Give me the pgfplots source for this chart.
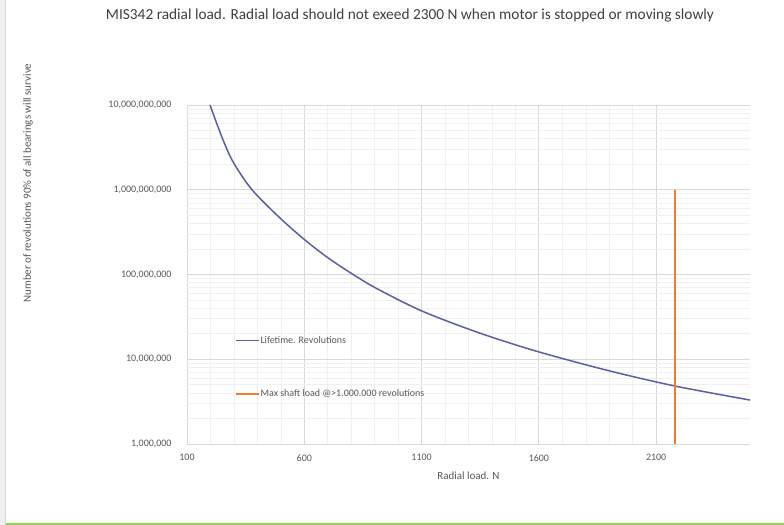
\documentclass[border=0pt]{standalone}
\usepackage{pgfplots}
\pgfplotsset{compat=1.18}
\usepackage{fontspec}
\setmainfont{Carlito}
\definecolor{lifeblue}{HTML}{5A5FA8}
\definecolor{shaftorange}{HTML}{ED7D31}
\definecolor{txtgray}{HTML}{595959}
\definecolor{majgrid}{HTML}{D9D9D9}
\definecolor{mingrid}{HTML}{F0F0F0}
\definecolor{edgegreen}{HTML}{92D050}

\begin{document}
\begin{tikzpicture}[x=1bp,y=1bp]
  % page frame, as in the screenshot
  \useasboundingbox (0,0) rectangle (784,525);
  \fill[white] (0,0) rectangle (784,525);
  \fill[black!6] (0,0) rectangle (5,525);
  \draw[black!15, line width=0.8bp] (5.5,0) -- (5.5,525);
  \draw[edgegreen, line width=1.6bp] (5.5,1) -- (784,1);

  \node[text=black!75, font=\fontsize{15.4}{17}\selectfont] at (410,509)
    {MIS342 radial load. Radial load should not exeed 2300 N when motor is stopped or moving slowly};
  \node[text=txtgray, rotate=90, font=\fontsize{11}{13}\selectfont] at (28,342)
    {Number of revolutions 90\% of all bearings will survive};

  \begin{axis}[
    at={(187bp,81bp)}, anchor=south west,
    scale only axis, width=563bp, height=339bp,
    ymode=log,
    xmin=100, xmax=2500, ymin=1e6, ymax=1e10,
    xtick={100,600,1100,1600,2100},
    xticklabels={100,600,1100,1600,2100},
    minor x tick num=4,
    ytick={1e6,1e7,1e8,1e9,1e10},
    yticklabels={{1,000,000},{10,000,000},{100,000,000},{1,000,000,000},{10,000,000,000}},
    grid=both,
    major grid style={majgrid, line width=0.8bp},
    minor grid style={mingrid, line width=0.6bp},
    axis line style={draw=none},
    major tick length=0pt, minor tick length=0pt,
    tick label style={text=txtgray, font=\fontsize{10}{12}\selectfont},
    yticklabel style={xshift=-12bp},
    xticklabel style={yshift=-7bp},
    xlabel={Radial load. N},
    xlabel style={text=txtgray, font=\fontsize{11}{13}\selectfont, yshift=-4bp},
    legend style={draw=none, fill=none, at={(0.085,0.33)}, anchor=north west,
      font=\fontsize{10}{12}\selectfont, text=txtgray, row sep=41bp,
      inner xsep=0pt, nodes={inner xsep=1pt}},
    legend cell align=left,
    legend image code/.code={\draw[#1, line width=1.5bp] (0bp,0bp) -- (23bp,0bp);},
  ]
    \addplot[lifeblue, line width=1.5bp, smooth, tension=0.5] coordinates {
      (198,1.0e10)
      (250,4.1e9)
      (296,2.14e9)
      (377,1.0e9)
      (496,4.65e8)
      (603,2.55e8)
      (700,1.58e8)
      (808,1.0e8)
      (910,6.8e7)
      (1102,3.7e7)
      (1349,2.03e7)
      (1600,1.22e7)
      (1900,7.3e6)
      (2180,4.83e6)
      (2500,3.3e6)
    };
    \addlegendentry{Lifetime. Revolutions}
    \addplot[shaftorange, line width=1.5bp] coordinates {
      (2180,1e6)
      (2180,1e9)
    };
    \addlegendentry{Max shaft load @>1.000.000 revolutions}
  \end{axis}
\end{tikzpicture}
\end{document}
